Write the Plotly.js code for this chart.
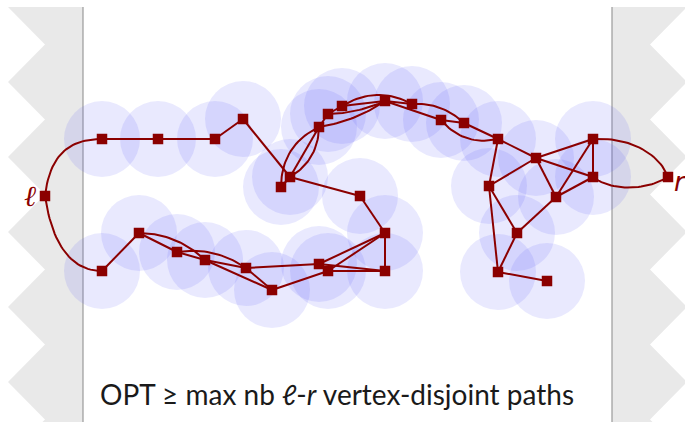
<!DOCTYPE html>
<html><head><meta charset="utf-8">
<script src="https://cdn.plot.ly/plotly-3.0.1.min.js"></script>
<style>html,body{margin:0;padding:0;background:#fff}#g{width:685px;height:422px}</style>
</head><body><div id="g"></div>
<script>
// node positions (diagram coordinates)
const nodeX = [45,102,158,215,243,281,290,319,328,342,385,412,441,464,498,536,593,593,489,556,517,498,547,668,360,385,385,319,328,272,246,205,177,139,102];
const nodeY = [196,139,139,139,119,187,177,127,114,106,101,104,120,123,139,158,139,177,186,197,233,272,281,177,196,233,271,264,271,290,268,260,252,233,271];
const terminals = [0,23];
// straight edges
const edgeFrom = [1,2,3,4,6,24,25,25,25,27,28,30,30,29,34,33,32,31,31,6,7,8,9,10,10,12,13,14,14,18,15,15,15,16,16,17,18,18,20,20,21,5];
const edgeTo   = [2,3,4,6,24,25,26,27,28,26,26,27,29,28,33,32,31,30,29,7,8,9,10,11,12,13,14,15,18,15,16,19,17,17,19,19,20,21,19,21,22,6];
// bent edges (quadratic, signed bend)
const bendFrom = [33,32,5,6,7,8,9,11,12];
const bendTo   = [31,30,7,7,10,10,11,13,14];
const bendAmt  = [-14,-14,-22,16,8,6,-20,-12,18];
// terminal curves (cubic control points)
const termCurves = [
  [[45,196],[50,152],[72,139],[102,139]],
  [[45,196],[52,245],[72,271],[102,271]],
  [[593,139],[632,137],[660,155],[668,177]],
  [[593,177],[612,192],[648,190],[668,177]]
];
const zigTopY = 7, zigPeriod = 75, zigCount = 6;
const caption = "OPT \u2265 max nb <i>\u2113</i>-<i>r</i> vertex-disjoint paths";

const RED = '#8b0000';
const lx = [], ly = [];
function push(pts){ pts.forEach(p=>{lx.push(p[0]);ly.push(p[1]);}); lx.push(null); ly.push(null); }
for (let i=0;i<edgeFrom.length;i++){
  const a=edgeFrom[i], b=edgeTo[i];
  push([[nodeX[a],nodeY[a]],[nodeX[b],nodeY[b]]]);
}
for (let i=0;i<bendFrom.length;i++){
  const a=bendFrom[i], b=bendTo[i];
  const x0=nodeX[a],y0=nodeY[a],x1=nodeX[b],y1=nodeY[b];
  const dx=x1-x0, dy=y1-y0, L=Math.hypot(dx,dy);
  const cx=(x0+x1)/2 + (-dy/L)*bendAmt[i], cy=(y0+y1)/2 + (dx/L)*bendAmt[i];
  const pts=[];
  for(let k=0;k<=24;k++){const t=k/24,u=1-t;
    pts.push([u*u*x0+2*u*t*cx+t*t*x1, u*u*y0+2*u*t*cy+t*t*y1]);}
  push(pts);
}
termCurves.forEach(c=>{
  const pts=[];
  for(let k=0;k<=30;k++){const t=k/30,u=1-t;
    const b=[u*u*u,3*u*u*t,3*u*t*t,t*t*t];
    pts.push([b[0]*c[0][0]+b[1]*c[1][0]+b[2]*c[2][0]+b[3]*c[3][0],
              b[0]*c[0][1]+b[1]*c[1][1]+b[2]*c[2][1]+b[3]*c[3][1]]);}
  push(pts);
});

const shapes = [];
// gray side regions with zigzag outer edges
function zig(inner, outer, tip){
  let d = `M ${inner},${zigTopY} L ${outer},${zigTopY}`;
  for(let k=0;k<zigCount;k++){
    const y=zigTopY+k*zigPeriod;
    d += ` L ${tip},${y+zigPeriod/2} L ${outer},${y+zigPeriod}`;
  }
  d += ` L ${inner},${zigTopY+zigCount*zigPeriod} Z`;
  return d;
}
shapes.push({type:'path',path:zig(83,8,45),xref:'x',yref:'y',fillcolor:'#e9e9e9',line:{width:0},layer:'below'});
shapes.push({type:'path',path:zig(612,687,650),xref:'x',yref:'y',fillcolor:'#e9e9e9',line:{width:0},layer:'below'});
shapes.push({type:'line',x0:83,x1:83,y0:zigTopY,y1:440,xref:'x',yref:'y',line:{color:'#9a9a9a',width:1.2},layer:'below'});
shapes.push({type:'line',x0:612,x1:612,y0:zigTopY,y1:440,xref:'x',yref:'y',line:{color:'#9a9a9a',width:1.2},layer:'below'});
const R=38;
for(let i=0;i<nodeX.length;i++){
  if(terminals.includes(i)) continue;
  shapes.push({type:'circle',xref:'x',yref:'y',x0:nodeX[i]-R,x1:nodeX[i]+R,y0:nodeY[i]-R,y1:nodeY[i]+R,
    fillcolor:'rgba(85,85,245,0.13)',line:{width:0},layer:'below'});
}

const data = [
  {type:'scatter',mode:'lines',x:lx,y:ly,line:{color:RED,width:2},hoverinfo:'skip'},
  {type:'scatter',mode:'markers',x:nodeX,y:nodeY,marker:{symbol:'square',size:10.5,color:RED},hoverinfo:'skip'}
];
const layout = {
  width:685,height:422,margin:{l:0,r:0,t:0,b:0},
  paper_bgcolor:'#fff',plot_bgcolor:'rgba(0,0,0,0)',showlegend:false,
  xaxis:{range:[0,685],visible:false,fixedrange:true},
  yaxis:{range:[422,0],visible:false,fixedrange:true},
  shapes:shapes,
  annotations:[
    {x:337,y:394,xref:'x',yref:'y',text:caption,showarrow:false,font:{family:'Lato',size:28,color:'#1a1a1a'},xanchor:'center',yanchor:'middle'},
    {x:nodeX[0]-7,y:nodeY[0],xref:'x',yref:'y',text:'<i>\u2113</i>',showarrow:false,font:{family:'DejaVu Serif',size:29,color:RED},xanchor:'right',yanchor:'middle'},
    {x:nodeX[23]+4,y:nodeY[23]+5,xref:'x',yref:'y',text:'<i>r</i>',showarrow:false,font:{family:'DejaVu Sans',size:26,color:RED},xanchor:'left',yanchor:'middle'}
  ]
};
Plotly.newPlot('g',data,layout,{staticPlot:true});
</script></body></html>
